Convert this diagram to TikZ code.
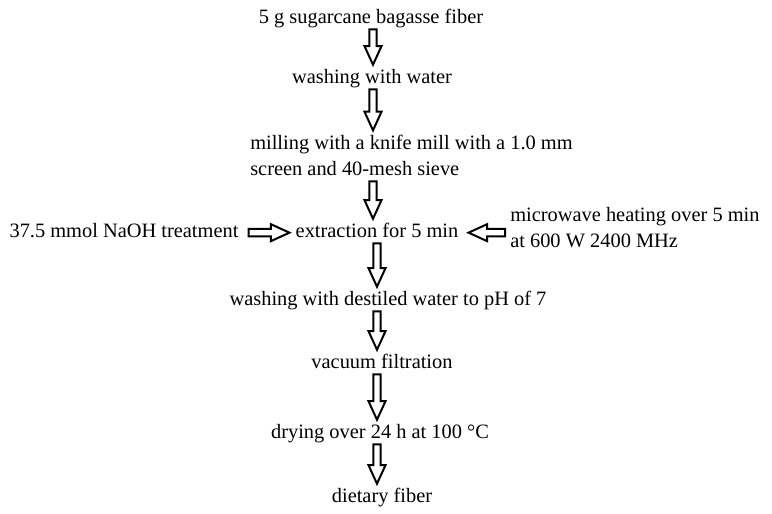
\documentclass[tikz,border=0pt]{standalone}
\usepackage{fontspec}
\setmainfont{Liberation Serif}
\usepackage{tikz}
\usetikzlibrary{calc}
\newcommand{\fatarrow}[4]{%
  \coordinate (ta) at ($(#1)!#3!(#2)$);
  \coordinate (hd) at ($(#2)!#4!(#1)$);
  \coordinate (hb) at ($(hd)!14pt!(ta)$);
  \draw[fatarr] ($(ta)!2.8pt!90:(hd)$) -- ($(hb)!2.8pt!90:(hd)$) -- ($(hb)!6.4pt!90:(hd)$) -- (hd)
    -- ($(hb)!6.4pt!-90:(hd)$) -- ($(hb)!2.8pt!-90:(hd)$) -- ($(ta)!2.8pt!-90:(hd)$) -- cycle;}
\newcommand{\down}[2]{\fatarrow{#1}{#2}{1pt}{3.5pt}}

\begin{document}
\begin{tikzpicture}[x=0.75pt, y=-0.75pt, font=\fontsize{15.3}{19.5}\selectfont,
  stage/.style={inner sep=0pt, text height=10pt, text depth=3.5pt, anchor=base},
  block/.style={inner sep=0pt, align=left, anchor=north west},
  fatarr/.style={line width=1.5pt, line join=miter}]
\useasboundingbox (0,0) rectangle (772,514);
\coordinate (spine) at (373,0);
\coordinate (spine2) at (377,0);
% main line
\node[stage] (src) at (371,23) {5 g sugarcane bagasse fiber};
\node[stage] (wash) at (372,83) {washing with water};
\node[block] (mill) at (250,135) {milling with a knife mill with a 1.0 mm\\screen and 40-mesh sieve};
\node[stage] (extr) at (377,237) {extraction for 5 min};
\node[stage] (dest) at (388,305) {washing with destiled water to pH of 7};
\node[stage] (vac) at (382,368) {vacuum filtration};
\node[stage] (dry) at (380,438) {drying over 24 h at 100 °C};
\node[stage] (diet) at (382,502) {dietary fiber};
% side inputs
\node[stage] (naoh) at (124,237) {37.5 mmol NaOH treatment};
\node[block] (micro) at (510,207) {microwave heating over 5 min\\at 600 W 2400 MHz};
% arrows
\down{src.south -| spine}{wash.north -| spine}
\down{wash.south -| spine}{mill.north -| spine}
\fatarrow{mill.south -| spine}{extr.north -| spine}{4pt}{3.5pt}
\down{extr.south -| spine2}{dest.north -| spine2}
\down{dest.south -| spine2}{vac.north -| spine2}
\down{vac.south -| spine2}{dry.north -| spine2}
\down{dry.south -| spine2}{diet.north -| spine2}
\fatarrow{naoh.east}{extr.west}{7.5pt}{4.5pt}
\fatarrow{micro.west |- extr}{extr.east}{3.75pt}{7.5pt}
\end{tikzpicture}
\end{document}
